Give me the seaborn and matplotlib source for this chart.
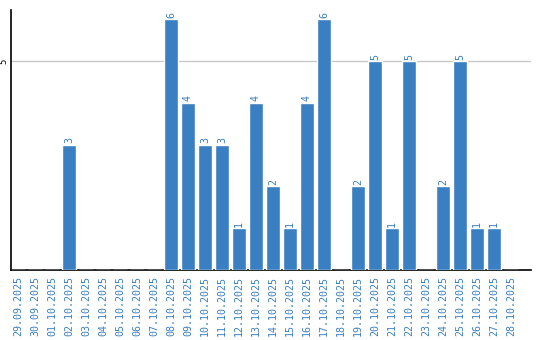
import matplotlib
matplotlib.use("Agg")
import matplotlib.pyplot as plt
import seaborn as sns
import pandas as pd

dates = ["29.09.2025", "30.09.2025", "01.10.2025", "02.10.2025", "03.10.2025",
         "04.10.2025", "05.10.2025", "06.10.2025", "07.10.2025", "08.10.2025",
         "09.10.2025", "10.10.2025", "11.10.2025", "12.10.2025", "13.10.2025",
         "14.10.2025", "15.10.2025", "16.10.2025", "17.10.2025", "18.10.2025",
         "19.10.2025", "20.10.2025", "21.10.2025", "22.10.2025", "23.10.2025",
         "24.10.2025", "25.10.2025", "26.10.2025", "27.10.2025", "28.10.2025"]
values = [0, 0, 0, 3, 0, 0, 0, 0, 0, 6,
          4, 3, 3, 1, 4, 2, 1, 4, 6, 0,
          2, 5, 1, 5, 0, 2, 5, 1, 1, 0]
yticks = [5]

blue = "#3a7fc1"
df = pd.DataFrame({"date": dates, "value": values})

sns.set_style("white")
fig = plt.figure(figsize=(5.4, 3.4), dpi=100)
ax = fig.add_axes([11/540, 70/340, 520/540, 260/340])

sns.barplot(data=df, x="date", y="value", color=blue, saturation=1,
            width=0.82, ax=ax, zorder=3)

labels = [str(v) if v > 0 else "" for v in values]
ax.bar_label(ax.containers[0], labels=labels, rotation=90, color=blue,
             fontsize=7.2, family="DejaVu Sans Mono", padding=1)

ax.set_xlim(-0.41, 30.18)
ax.set_ylim(0, 6.22)
ax.set_yticks(yticks)
ax.set_yticklabels([str(t) for t in yticks], rotation=90, va="center",
                   fontsize=6.5, family="DejaVu Sans Mono", color="black")
ax.yaxis.grid(True, color="#c8c8c8", linewidth=1, zorder=0)
ax.tick_params(axis="y", length=0, pad=2)
ax.tick_params(axis="x", length=0, pad=4)
for lbl in ax.get_xticklabels():
    lbl.set_rotation(90)
    lbl.set_color(blue)
    lbl.set_fontsize(7.2)
    lbl.set_family("DejaVu Sans Mono")
ax.set_xlabel("")
ax.set_ylabel("")
for s in ["top", "right"]:
    ax.spines[s].set_visible(False)
for s in ["left", "bottom"]:
    ax.spines[s].set_color("black")
    ax.spines[s].set_linewidth(1.2)

fig.savefig("out.png", dpi=100)
